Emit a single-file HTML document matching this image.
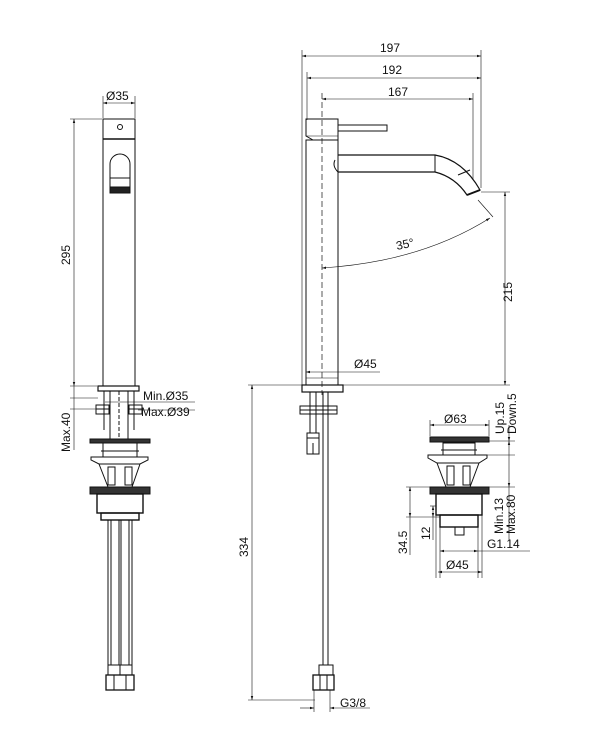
<!DOCTYPE html>
<html><head><meta charset="utf-8"><style>
html,body{margin:0;padding:0;background:#fff;}
svg{display:block;}
text{font-family:"Liberation Sans",sans-serif;font-size:12px;fill:#111;}
</style></head><body>
<svg width="615" height="750" viewBox="0 0 615 750" xmlns="http://www.w3.org/2000/svg">
<defs>
<marker id="a" viewBox="0 0 10 10" refX="10" refY="5" markerWidth="7" markerHeight="7" orient="auto-start-reverse"><path d="M0,2 L10,5 L0,8 z" fill="#111"/></marker>
</defs>
<g fill="none" stroke="#111" stroke-width="1">
<!-- ===== LEFT VIEW ===== -->
<rect x="103" y="119" width="32" height="267"/>
<line x1="103" y1="139" x2="135" y2="139" stroke-width="1.5"/>
<circle cx="120" cy="127" r="2.5"/>
<path d="M110,188 V164 A10,10 0 0 1 130,164 V188"/>
<line x1="110" y1="178" x2="130" y2="178"/>
<rect x="110" y="187" width="20" height="6" fill="#222"/>
<line x1="103" y1="96" x2="103" y2="118" stroke-width="0.6"/>
<line x1="135" y1="96" x2="135" y2="118" stroke-width="0.6"/>
<line x1="103" y1="103" x2="135" y2="103" stroke-width="0.6" marker-start="url(#a)" marker-end="url(#a)"/>
<line x1="70" y1="119" x2="102" y2="119" stroke-width="0.6"/>
<line x1="74" y1="119" x2="74" y2="386" stroke-width="0.6" marker-start="url(#a)" marker-end="url(#a)"/>
<line x1="70" y1="386" x2="97" y2="386" stroke-width="0.6"/>
<line x1="70" y1="398" x2="98" y2="398" stroke-width="0.6"/>
<line x1="70" y1="409" x2="100" y2="409" stroke-width="0.6"/>
<line x1="74" y1="386" x2="74" y2="450" stroke-width="0.6"/>
<rect x="98" y="386" width="41" height="5" stroke-width="1.2"/>
<line x1="104" y1="391" x2="104" y2="430"/><line x1="110" y1="391" x2="110" y2="440"/>
<line x1="128" y1="391" x2="128" y2="440"/><line x1="134" y1="391" x2="134" y2="430"/>
<line x1="119" y1="391" x2="119" y2="440" stroke-dasharray="4,2"/>
<rect x="96" y="405" width="13" height="9"/><line x1="96" y1="409" x2="109" y2="409"/>
<rect x="129" y="405" width="13" height="9"/><line x1="129" y1="409" x2="142" y2="409"/>
<line x1="105" y1="402" x2="195" y2="402" stroke-width="0.6"/>
<line x1="138" y1="410" x2="195" y2="410" stroke-width="0.6"/>
<rect x="90" y="439" width="60" height="4" fill="#333"/>
<rect x="103" y="443" width="34" height="14"/>
<line x1="101" y1="451" x2="139" y2="451"/>
<path d="M91,457 H148 V460 L140,464 H99 L91,460 Z"/>
<path d="M99,464 L108,487 M140,464 L132,487"/>
<rect x="108" y="467" width="7" height="18"/><rect x="125" y="467" width="7" height="18"/>
<rect x="90" y="487" width="60" height="7" fill="#333"/>
<rect x="97" y="494" width="46" height="19" stroke-width="1.4"/>
<rect x="101" y="513" width="38" height="7" stroke-width="1.4"/>
<line x1="108" y1="520" x2="108" y2="665"/><line x1="111" y1="520" x2="111" y2="665"/>
<line x1="119" y1="520" x2="119" y2="665"/><line x1="121" y1="520" x2="121" y2="665"/>
<line x1="129" y1="520" x2="129" y2="665"/><line x1="132" y1="520" x2="132" y2="665"/>
<rect x="108" y="665" width="12" height="10"/><rect x="120" y="665" width="12" height="10"/>
<rect x="106" y="675" width="28" height="15" stroke-width="1.3"/>
<line x1="114" y1="675" x2="114" y2="690"/><line x1="126" y1="675" x2="126" y2="690"/>

<!-- ===== MIDDLE VIEW ===== -->
<rect x="306" y="140" width="32" height="245"/>
<path d="M306,119 H338 V140 H313 L306,136 Z"/>
<line x1="306" y1="136" x2="338" y2="136" stroke-width="0.6"/>
<rect x="338" y="125" width="49" height="6"/>
<path d="M338,155 H435 Q463,160 480,190 L467,195 Q455,177 435,172 H338" stroke-width="1.2"/>
<path d="M335,160 Q332,166 338,172" />
<line x1="435" y1="155" x2="435" y2="172"/>
<line x1="458" y1="175" x2="470" y2="170"/>
<line x1="467" y1="195" x2="480" y2="190" stroke-width="2"/>
<line x1="322" y1="93" x2="322" y2="395" stroke-width="0.7" stroke-dasharray="6,3"/>
<rect x="302" y="385" width="41" height="7" stroke-width="1.2"/>
<line x1="306" y1="378" x2="338" y2="378" stroke-width="0.6"/>
<line x1="302" y1="50" x2="302" y2="385" stroke-width="0.6"/>
<line x1="307" y1="72" x2="307" y2="120" stroke-width="0.6"/>
<line x1="481" y1="50" x2="481" y2="188" stroke-width="0.6"/>
<line x1="473" y1="93" x2="473" y2="180" stroke-width="0.6"/>
<line x1="302" y1="56" x2="481" y2="56" stroke-width="0.6" marker-start="url(#a)" marker-end="url(#a)"/>
<line x1="307" y1="78" x2="481" y2="78" stroke-width="0.6" marker-start="url(#a)" marker-end="url(#a)"/>
<line x1="322" y1="99" x2="473" y2="99" stroke-width="0.6" marker-start="url(#a)" marker-end="url(#a)"/>
<line x1="478" y1="200" x2="493" y2="217" stroke-width="0.6"/>
<path d="M322,268 Q420,262 490,218" stroke-width="0.6" marker-start="url(#a)" marker-end="url(#a)"/>
<line x1="481" y1="192" x2="510" y2="192" stroke-width="0.6"/>
<line x1="505" y1="192" x2="505" y2="385" stroke-width="0.6" marker-start="url(#a)" marker-end="url(#a)"/>
<line x1="343" y1="385" x2="510" y2="385" stroke-width="0.6"/>
<line x1="306" y1="372" x2="380" y2="372" stroke-width="0.6" marker-start="url(#a)"/>
<line x1="248" y1="385" x2="302" y2="385" stroke-width="0.6"/>
<line x1="252" y1="385" x2="252" y2="700" stroke-width="0.6" marker-start="url(#a)" marker-end="url(#a)"/>
<line x1="248" y1="700" x2="315" y2="700" stroke-width="0.6"/>
<line x1="310" y1="392" x2="310" y2="433"/><line x1="316" y1="392" x2="316" y2="433"/>
<rect x="300" y="406" width="37" height="4"/><rect x="300" y="410" width="37" height="4"/>
<rect x="307" y="433" width="12" height="5"/>
<rect x="307" y="438" width="12" height="16"/><line x1="313" y1="443" x2="313" y2="454"/>
<line x1="323" y1="392" x2="323" y2="665"/><line x1="328" y1="392" x2="328" y2="665"/>
<rect x="319" y="665" width="14" height="10"/>
<rect x="313" y="675" width="21" height="15" stroke-width="1.3"/>
<line x1="320" y1="675" x2="320" y2="690"/><line x1="327" y1="675" x2="327" y2="690"/>
<line x1="314" y1="690" x2="314" y2="712" stroke-width="0.6"/>
<line x1="330" y1="690" x2="330" y2="712" stroke-width="0.6"/>
<line x1="300" y1="708" x2="314" y2="708" stroke-width="0.6" marker-end="url(#a)"/>
<line x1="330" y1="708" x2="370" y2="708" stroke-width="0.6" marker-start="url(#a)"/>

<!-- ===== RIGHT WASTE ===== -->
<rect x="430" y="437" width="59" height="5" fill="#333"/>
<rect x="443" y="443" width="32" height="12"/>
<line x1="441" y1="450" x2="477" y2="450"/>
<path d="M428,455 H487 V458 L479,463 H437 L428,458 Z"/>
<path d="M437,463 L446,487 M479,463 L470,487"/>
<rect x="447" y="466" width="7" height="19"/><rect x="463" y="466" width="7" height="19"/>
<rect x="430" y="487" width="59" height="7" fill="#333"/>
<rect x="436" y="494" width="46" height="21" stroke-width="1.4"/>
<rect x="440" y="515" width="38" height="12" stroke-width="1.4"/>
<rect x="455" y="527" width="9" height="8"/>
<line x1="430" y1="420" x2="430" y2="436" stroke-width="0.6"/>
<line x1="489" y1="420" x2="489" y2="436" stroke-width="0.6"/>
<line x1="430" y1="425" x2="489" y2="425" stroke-width="0.6" marker-start="url(#a)" marker-end="url(#a)"/>
<line x1="489" y1="441" x2="515" y2="441" stroke-width="0.6"/>
<line x1="487" y1="455" x2="515" y2="455" stroke-width="0.6"/>
<line x1="489" y1="487" x2="515" y2="487" stroke-width="0.6"/>
<line x1="509" y1="425" x2="509" y2="441" stroke-width="0.6" marker-end="url(#a)"/>
<line x1="509" y1="441" x2="509" y2="487" stroke-width="0.6" marker-start="url(#a)" marker-end="url(#a)"/>
<line x1="509" y1="487" x2="509" y2="540" stroke-width="0.6"/>
<line x1="406" y1="487" x2="430" y2="487" stroke-width="0.6"/>
<line x1="410" y1="487" x2="410" y2="517" stroke-width="0.6" marker-start="url(#a)" marker-end="url(#a)"/>
<line x1="406" y1="517" x2="440" y2="517" stroke-width="0.6"/>
<line x1="410" y1="517" x2="410" y2="555" stroke-width="0.6"/>
<line x1="430" y1="506" x2="436" y2="506" stroke-width="0.6"/>
<line x1="433" y1="506" x2="433" y2="517" stroke-width="0.6" marker-start="url(#a)" marker-end="url(#a)"/>
<line x1="433" y1="517" x2="433" y2="540" stroke-width="0.6"/>
<line x1="440" y1="527" x2="440" y2="578" stroke-width="0.6"/>
<line x1="478" y1="527" x2="478" y2="578" stroke-width="0.6"/>
<line x1="440" y1="551" x2="478" y2="551" stroke-width="0.6" marker-start="url(#a)" marker-end="url(#a)"/>
<line x1="478" y1="551" x2="530" y2="551" stroke-width="0.6"/>
<line x1="438" y1="572" x2="482" y2="572" stroke-width="0.6" marker-start="url(#a)" marker-end="url(#a)"/>
<line x1="436" y1="515" x2="436" y2="578" stroke-width="0.6"/>
<line x1="482" y1="515" x2="482" y2="578" stroke-width="0.6"/>
</g>
<text x="106" y="100">Ø35</text>
<text transform="translate(70,265) rotate(-90)">295</text>
<text x="143" y="400">Min.Ø35</text>
<text x="141" y="416">Max.Ø39</text>
<text transform="translate(70,452) rotate(-90)">Max.40</text>
<text x="380" y="52">197</text>
<text x="382" y="74">192</text>
<text x="388" y="96">167</text>
<text transform="translate(397,250) rotate(-12)">35°</text>
<text transform="translate(512,302) rotate(-90)">215</text>
<text x="354" y="368">Ø45</text>
<text transform="translate(248,557) rotate(-90)">334</text>
<text x="340" y="707">G3/8</text>
<text x="444" y="423">Ø63</text>
<text transform="translate(504,434) rotate(-90)">Up.15</text>
<text transform="translate(516,434) rotate(-90)">Down.5</text>
<text transform="translate(503,534) rotate(-90)">Min.13</text>
<text transform="translate(515,534) rotate(-90)">Max.80</text>
<text x="487" y="548">G1.14</text>
<text transform="translate(407,554) rotate(-90)">34.5</text>
<text transform="translate(430,540) rotate(-90)">12</text>
<text x="446" y="569">Ø45</text>
</svg>
</body></html>
